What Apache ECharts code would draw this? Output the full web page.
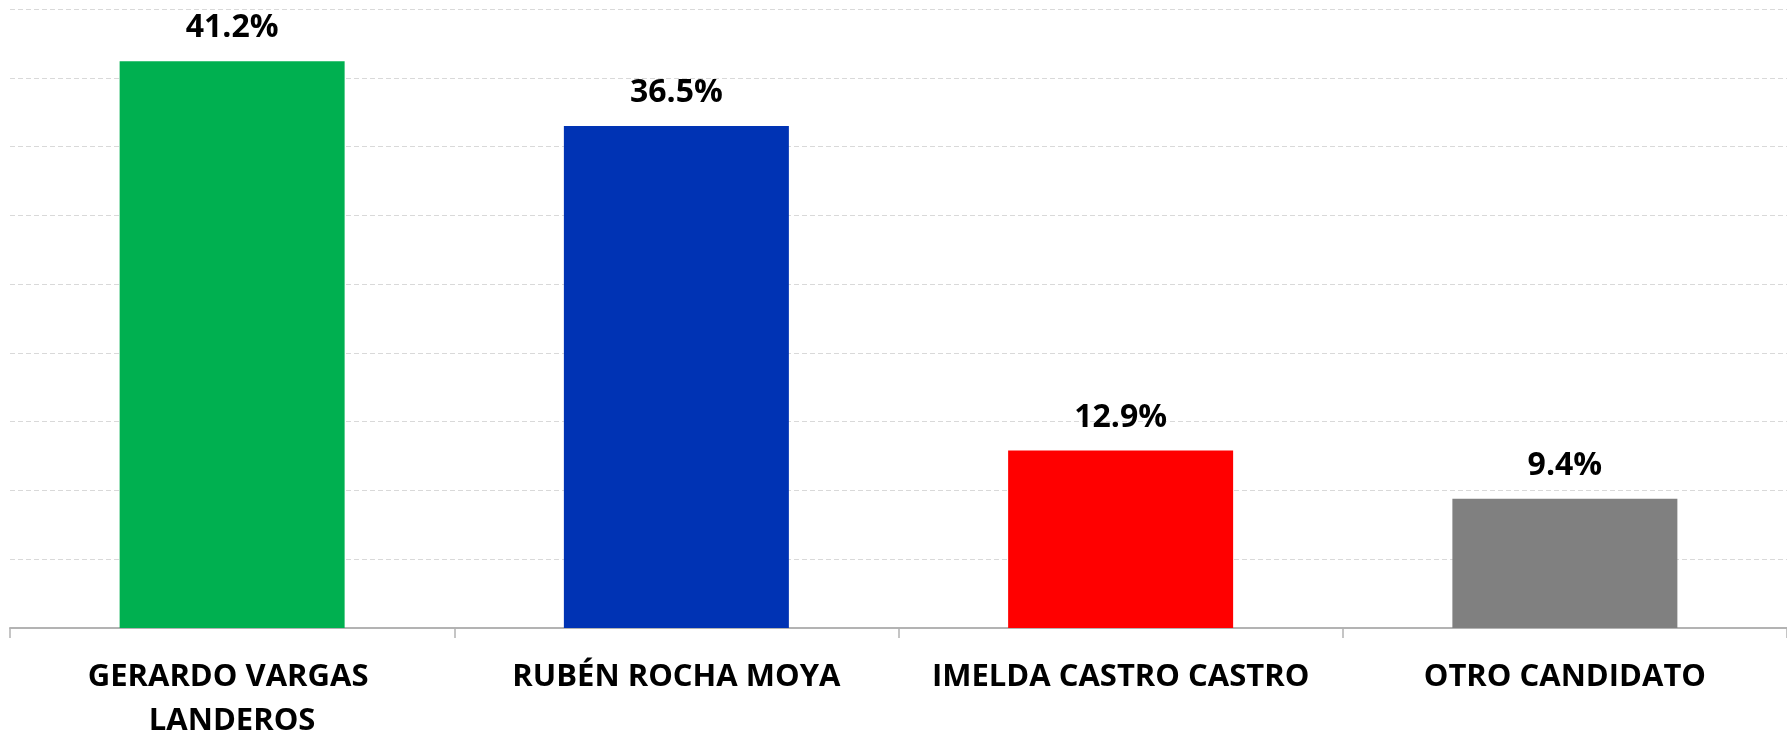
<!DOCTYPE html>
<html>
<head>
<meta charset="utf-8">
<script src="https://cdn.jsdelivr.net/npm/echarts@6/dist/echarts.min.js"></script>
<style>
  html, body { margin: 0; padding: 0; background: #fff; }
  #chart { width: 1787px; height: 734px; }
</style>
</head>
<body>
<div id="chart"></div>
<script>
const candidates = ['GERARDO VARGAS LANDEROS', 'RUBÉN ROCHA MOYA', 'IMELDA CASTRO CASTRO', 'OTRO CANDIDATO'];
const shares = [41.2, 36.5, 12.9, 9.4];
const barColors = ['#00B050', '#0033B4', '#FF0000', '#808080'];

const FONT = '"Open Sans", "Noto Sans", sans-serif';

const chart = echarts.init(document.getElementById('chart'));

chart.setOption({
  animation: false,
  grid: { left: 10, right: 0, top: 9, bottom: 106, containLabel: false, outerBoundsMode: 'none' },
  xAxis: {
    type: 'category',
    data: candidates,
    axisLine: { lineStyle: { color: '#b3b3b3', width: 2 } },
    axisTick: { show: true, length: 10, lineStyle: { color: '#b3b3b3', width: 1.5 } },
    axisLabel: {
      color: '#000',
      fontFamily: FONT,
      fontWeight: 'bold',
      fontSize: 31,
      lineHeight: 44,
      margin: 27,
      width: 420,
      overflow: 'break',
      interval: 0,
    },
  },
  yAxis: {
    type: 'value',
    min: 0,
    max: 45,
    interval: 5,
    axisLine: { show: false },
    axisTick: { show: false },
    axisLabel: { show: false },
    splitLine: { lineStyle: { color: '#d9d9d9', type: [5, 3], width: 1 } },
  },
  series: [{
    type: 'bar',
    barWidth: 225,
    data: shares.map((v, i) => ({ value: v, itemStyle: { color: barColors[i] } })),
    label: {
      show: true,
      position: 'top',
      distance: 17,
      color: '#000',
      fontFamily: FONT,
      fontWeight: 'bold',
      fontSize: 32,
      formatter: p => p.value.toFixed(1) + '%',
    },
  }],
});
</script>
</body>
</html>
